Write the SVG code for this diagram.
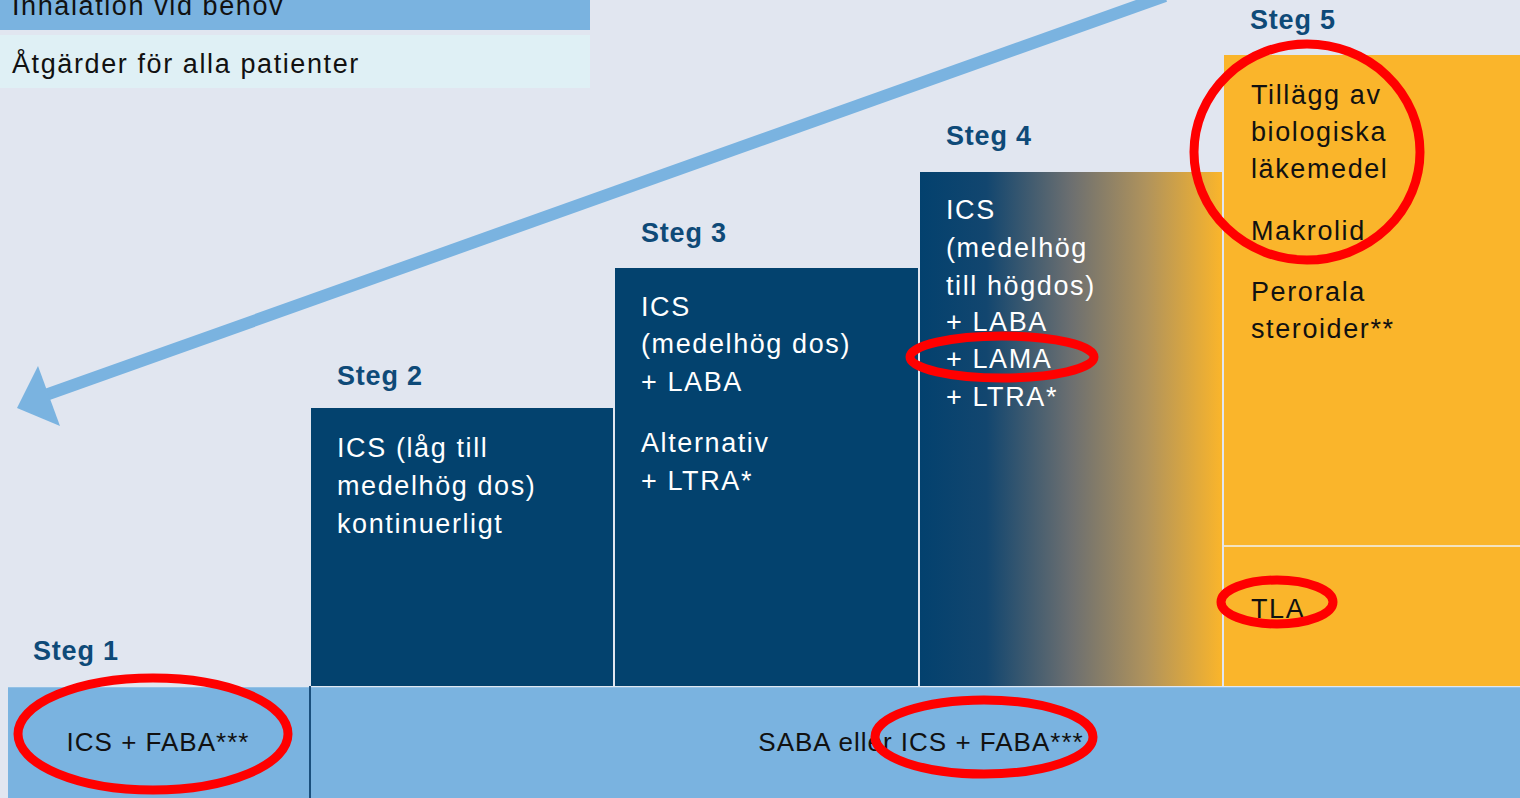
<svg xmlns="http://www.w3.org/2000/svg" width="1520" height="798" viewBox="0 0 1520 798">
<style>
.lbl{font-family:"Liberation Sans",Arial,sans-serif;font-weight:bold;font-size:27px;letter-spacing:0.8px;fill:#0e4a78}
.w{font-family:"Liberation Sans",Arial,sans-serif;font-size:27px;letter-spacing:1.6px;fill:#ffffff}
.k{font-family:"Liberation Sans",Arial,sans-serif;font-size:27px;letter-spacing:1.6px;fill:#111111}
.kb{font-family:"Liberation Sans",Arial,sans-serif;font-size:26px;letter-spacing:1px;fill:#111111}
.ring{fill:none;stroke:#ff0000;stroke-width:9}
</style>
<defs>
<linearGradient id="g4" x1="0" y1="0" x2="1" y2="0">
<stop offset="0" stop-color="#03416e"/>
<stop offset="0.22" stop-color="#12466f"/>
<stop offset="0.5" stop-color="#6c6f70"/>
<stop offset="0.75" stop-color="#b0935c"/>
<stop offset="1" stop-color="#fab52b"/>
</linearGradient>
</defs>
<rect width="1520" height="798" fill="#e1e6f0"/>
<g id="legend">
<rect x="0" y="0" width="590" height="30" fill="#7ab3e0"/>
<text class="k" x="12" y="15">Inhalation vid behov</text>
<rect x="0" y="35" width="590" height="53" fill="#dff0f5"/>
<text class="k" x="12" y="73">Åtgärder för alla patienter</text>
</g>
<g id="connectors">
<line x1="1165" y1="-4" x2="40" y2="397" stroke="#7ab3e0" stroke-width="12"/>
<polygon points="17,408 38,366 60,426" fill="#7ab3e0"/>
</g>
<g id="steg1">
<text class="lbl" x="33" y="660">Steg 1</text>
</g>
<g id="bar">
<rect x="8" y="686" width="1512" height="112" fill="#7ab3e0"/>
<line x1="8" y1="686.5" x2="1520" y2="686.5" stroke="#dfe8f2" stroke-width="1.5"/>
<line x1="310" y1="686" x2="310" y2="798" stroke="#1a4f7c" stroke-width="2"/>
<text class="kb" x="158" y="751" text-anchor="middle">ICS + FABA***</text>
<text class="kb" x="921" y="751" text-anchor="middle">SABA eller ICS + FABA***</text>
</g>
<g id="steg2">
<text class="lbl" x="337" y="385">Steg 2</text>
<rect x="311" y="408" width="302" height="278" fill="#03426e"/>
<text class="w" x="337" y="457">ICS (låg till</text>
<text class="w" x="337" y="495">medelhög dos)</text>
<text class="w" x="337" y="533">kontinuerligt</text>
</g>
<g id="steg3">
<text class="lbl" x="641" y="242">Steg 3</text>
<rect x="615" y="268" width="303" height="418" fill="#03426e"/>
<text class="w" x="641" y="316">ICS</text>
<text class="w" x="641" y="353">(medelhög dos)</text>
<text class="w" x="641" y="391">+ LABA</text>
<text class="w" x="641" y="452">Alternativ</text>
<text class="w" x="641" y="490">+ LTRA*</text>
</g>
<g id="steg4">
<text class="lbl" x="946" y="145">Steg 4</text>
<rect x="920" y="172" width="302" height="514" fill="url(#g4)"/>
<text class="w" x="946" y="219">ICS</text>
<text class="w" x="946" y="257">(medelhög</text>
<text class="w" x="946" y="295">till högdos)</text>
<text class="w" x="946" y="331">+ LABA</text>
<text class="w" x="946" y="368">+ LAMA</text>
<text class="w" x="946" y="406">+ LTRA*</text>
</g>
<g id="steg5">
<text class="lbl" x="1250" y="29">Steg 5</text>
<rect x="1224" y="55" width="296" height="631" fill="#fab52b"/>
<line x1="1224" y1="546" x2="1520" y2="546" stroke="#f3e3c0" stroke-width="2"/>
<text class="k" x="1251" y="104">Tillägg av</text>
<text class="k" x="1251" y="141">biologiska</text>
<text class="k" x="1251" y="178">läkemedel</text>
<text class="k" x="1251" y="240">Makrolid</text>
<text class="k" x="1251" y="301">Perorala</text>
<text class="k" x="1251" y="338">steroider**</text>
<text class="k" x="1251" y="618">TLA</text>
</g>
<g id="highlights">
<ellipse class="ring" cx="1307" cy="152" rx="113" ry="108"/>
<ellipse class="ring" cx="1002" cy="357" rx="92" ry="21"/>
<ellipse class="ring" cx="1277" cy="602" rx="56" ry="22"/>
<ellipse class="ring" cx="153" cy="734" rx="135" ry="56"/>
<ellipse class="ring" cx="984" cy="737" rx="109" ry="37"/>
</g>
</svg>
